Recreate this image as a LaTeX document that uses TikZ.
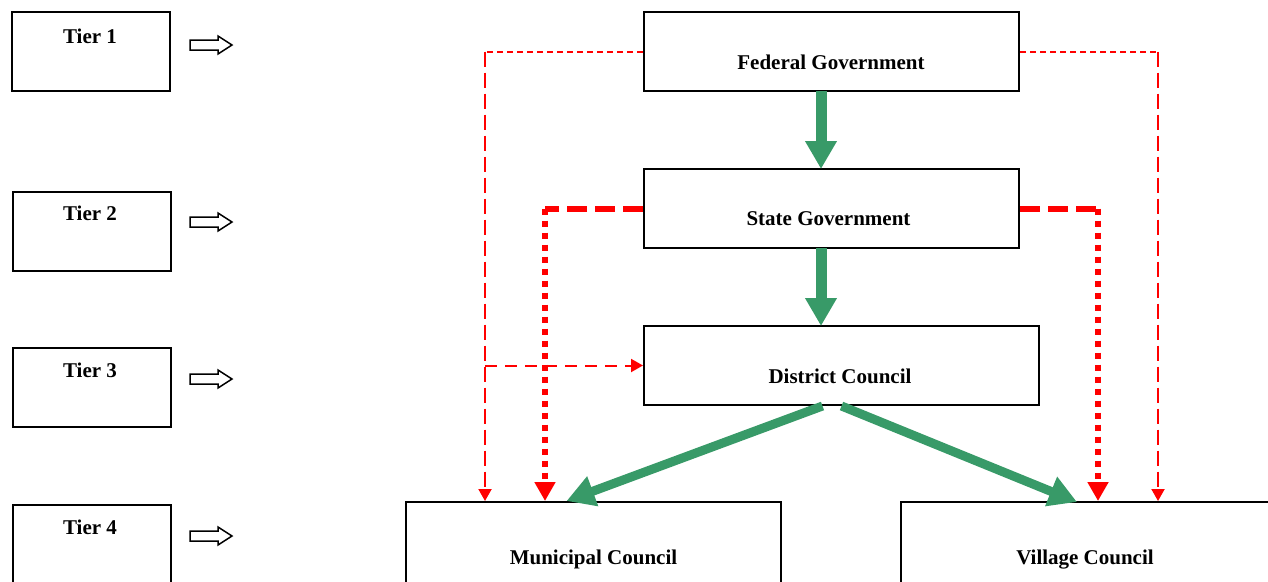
\documentclass[tikz,border=0pt]{standalone}
\usepackage{fontspec}
\setmainfont{Liberation Serif}
\usetikzlibrary{arrows.meta}
\definecolor{govgreen}{RGB}{56,154,104}
\tikzstyle{tierbox} = [draw, line width=2pt, minimum width=158pt, minimum height=79pt, inner sep=0pt]
\tikzstyle{govbox} = [draw, line width=2pt, minimum height=79pt, inner sep=0pt]
\tikzstyle{lbl} = [font=\fontsize{21}{25}\selectfont\bfseries, inner sep=0pt, anchor=base]
\tikzstyle{flow} = [govgreen, line width=11pt, -{Triangle[width=30pt,length=28pt]}]
\tikzstyle{thinred} = [red, line width=2pt]
\tikzstyle{thickred} = [red, line width=6pt]

\begin{document}
\begin{tikzpicture}[x=1pt,y=-1pt]
				\useasboundingbox (0,0) rectangle (1268,581);
				% tiers on the left
				\node[tierbox] (t1) at (91,51.5) {};
				\node[tierbox] (t2) at (91.5,231) {};
				\node[tierbox] (t3) at (91.5,387.5) {};
				\node[tierbox] (t4) at (91.5,544.5) {};
				\node[lbl] (t1txt) at (90,43) {Tier 1};
				\node[lbl] (t2txt) at (90,220) {Tier 2};
				\node[lbl] (t3txt) at (90,377) {Tier 3};
				\node[lbl] (t4txt) at (90,534) {Tier 4};
				\foreach \y in {45,222,379,536}
					\draw[line width=1.5pt] (190,\y-5) -- (218,\y-5) -- (218,\y-9) -- (232,\y) -- (218,\y+9) -- (218,\y+5) -- (190,\y+5) -- cycle;
				% government boxes
				\node[govbox, minimum width=375pt] (fed) at (831.5,51.5) {};
				\node[govbox, minimum width=375pt] (state) at (831.5,208.5) {};
				\node[govbox, minimum width=395pt] (dist) at (841.5,365.5) {};
				\node[govbox, minimum width=375pt, minimum height=82pt] (muni) at (593.5,543) {};
				\node[govbox, minimum width=376pt, minimum height=82pt] (vil) at (1089,543) {};
				\node[lbl] (fedtxt) at (831,69) {Federal Government};
				\node[lbl] (statetxt) at (828.5,225) {State Government};
				\node[lbl] (disttxt) at (840,383) {District Council};
				\node[lbl] (munitxt) at (593.5,564) {Municipal Council};
				\node[lbl] (viltxt) at (1085,564) {Village Council};
				% green chain
				\draw[flow] (821,91) -- (821,169);
				\draw[flow] (821,248) -- (821,326);
				\draw[flow, line width=9pt] ([xshift=-19pt]dist.south) -- ([xshift=-27pt]muni.north);
				\draw[flow, line width=9pt] (dist.south) -- (1077,502);
				% red links
				\coordinate (fl) at (485,51.5);
				\coordinate (fr) at (1158,51.5);
				\coordinate (sl) at (545,208.5);
				\coordinate (sr) at (1098,208.5);
				\coordinate (dl) at (485,365.5);
				\draw[thinred, dash pattern=on 6pt off 4pt] (fed.west) -- (fl);
				\draw[thinred, dash pattern=on 15pt off 6pt, -{Triangle[width=13pt,length=12pt]}] (fl) -- (fl |- muni.north);
				\draw[thinred, dash pattern=on 6pt off 4pt] (fed.east) -- (fr);
				\draw[thinred, dash pattern=on 15pt off 6pt, -{Triangle[width=13pt,length=12pt]}] (fr) -- (fr |- vil.north);
				\draw[thickred, dash pattern=on 20pt off 8pt] (state.west) -- (sl);
				\draw[thickred, dash pattern=on 6pt off 6pt, -{Triangle[width=20pt,length=19pt]}] (sl) -- (sl |- muni.north);
				\draw[thickred, dash pattern=on 20pt off 8pt] (state.east) -- (sr);
				\draw[thickred, dash pattern=on 6pt off 6pt, -{Triangle[width=20pt,length=19pt]}] (sr) -- (sr |- vil.north);
				\draw[thinred, dash pattern=on 12pt off 8pt, -{Triangle[width=13pt,length=12pt]}] (dl) -- (dist.west);
			\end{tikzpicture}
\end{document}
